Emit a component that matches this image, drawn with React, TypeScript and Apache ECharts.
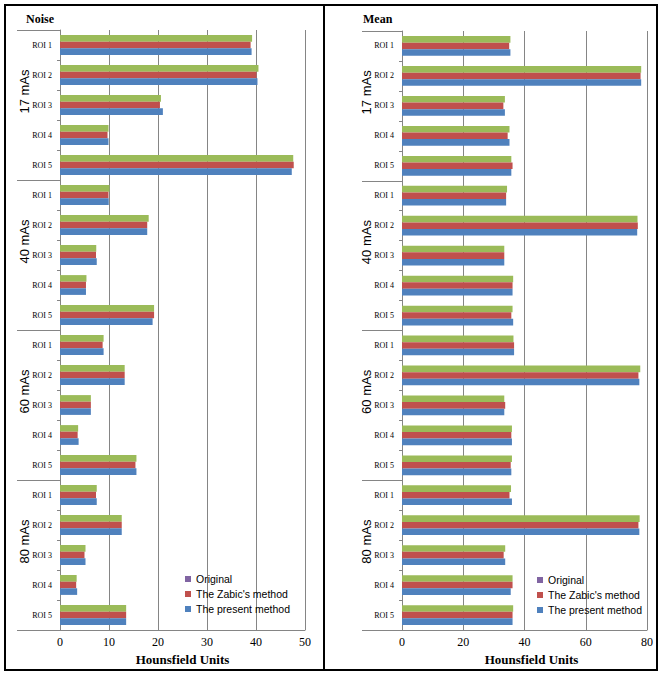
import React, { useEffect, useRef } from 'react';
import * as echarts from 'echarts';

const groups = ['17 mAs', '40 mAs', '60 mAs', '80 mAs'];
const rois = ['ROI 1', 'ROI 2', 'ROI 3', 'ROI 4', 'ROI 5'];
const seriesNames = ['Original', "The Zabic's method", 'The present method'];
const noiseTicks = { min: 0, max: 50, interval: 10 };
const meanTicks = { min: 0, max: 80, interval: 20 };

// Noise (left panel)
const noiseOriginal = [39.2, 40.5, 20.6, 9.9, 47.6, 10.1, 18.1, 7.4, 5.4, 19.2, 8.9, 13.2, 6.3, 3.7, 15.6, 7.5, 12.6, 5.2, 3.4, 13.5];
const noiseZabic = [38.9, 40.1, 20.4, 9.7, 47.7, 9.9, 17.8, 7.35, 5.3, 19.2, 8.7, 13.2, 6.3, 3.6, 15.4, 7.35, 12.6, 5.0, 3.3, 13.5];
const noisePresent = [39.1, 40.3, 21.0, 9.9, 47.3, 9.95, 17.8, 7.5, 5.3, 18.9, 8.9, 13.2, 6.3, 3.8, 15.6, 7.5, 12.6, 5.2, 3.5, 13.5];

// Mean (right panel)
const meanOriginal = [35.4, 78.1, 33.6, 35.1, 35.7, 34.3, 76.9, 33.4, 36.3, 36.1, 36.4, 77.8, 33.4, 35.9, 35.9, 35.6, 77.6, 33.7, 36.1, 36.3];
const meanZabic = [35.0, 77.9, 33.1, 34.5, 36.1, 34.0, 77.0, 33.4, 36.1, 35.7, 36.6, 77.2, 33.7, 35.7, 35.5, 35.1, 77.2, 33.2, 36.1, 36.1];
const meanPresent = [35.4, 78.1, 33.6, 35.1, 35.7, 34.0, 76.8, 33.4, 36.1, 36.3, 36.6, 77.5, 33.4, 35.9, 35.7, 35.9, 77.5, 33.7, 35.5, 36.1];

const barColors = ['#9BBB59', '#C0504D', '#4F81BD'];
const legendColors = ['#8064A2', '#C0504D', '#4F81BD'];

const SERIF = 'Liberation Serif';
const SANS = 'Liberation Sans';
const GRAY = '#858585';

export default function App() {
  const ref = useRef<HTMLDivElement>(null);
  useEffect(() => {
    if (!ref.current) return;
    const chart = echarts.init(ref.current, null, { renderer: 'svg' });
    const cats = groups.flatMap((g) => rois.map((r) => g + '|' + r));

    const makeY = (gridIndex: number, groupTickLen: number) => [
      {
        type: 'category',
        gridIndex,
        data: cats,
        inverse: true,
        position: 'left',
        axisLine: { show: true, lineStyle: { color: GRAY, width: 1 } },
        axisTick: { show: true, length: 3, lineStyle: { color: GRAY } },
        axisLabel: {
          formatter: (v: string) => v.split('|')[1],
          fontFamily: SERIF,
          fontSize: 8,
          color: '#000',
          margin: 8,
        },
        splitLine: { show: false },
      },
      {
        type: 'category',
        gridIndex,
        data: groups,
        inverse: true,
        position: 'left',
        axisLine: { show: false },
        axisTick: { show: true, length: groupTickLen, lineStyle: { color: GRAY } },
        axisLabel: {
          rotate: 90,
          fontFamily: SANS,
          fontSize: 13,
          color: '#000',
          margin: 29,
          padding: [0, 0, 0, 27],
        },
        splitLine: { show: false },
      },
    ];

    const makeX = (gridIndex: number, ticks: any, namePad: number) => ({
      type: 'value',
      gridIndex,
      min: ticks.min,
      max: ticks.max,
      interval: ticks.interval,
      axisLine: { show: true, lineStyle: { color: GRAY } },
      axisTick: { show: false },
      splitLine: { show: true, lineStyle: { color: GRAY, width: 1 } },
      axisLabel: { fontFamily: SERIF, fontSize: 12, color: '#000', margin: 6 },
      name: 'Hounsfield Units',
      nameLocation: 'middle',
      nameGap: 20,
      nameTextStyle: {
        fontFamily: SERIF,
        fontWeight: 'bold',
        fontSize: 13,
        color: '#000',
        padding: [0, 0, 0, namePad],
      },
    });

    const legendData = seriesNames.map((n, i) => ({ name: n, itemStyle: { color: legendColors[i] } }));
    const makeLegend = (left: number, top: number) => ({
      left,
      top,
      orient: 'vertical',
      icon: 'rect',
      itemWidth: 6,
      itemHeight: 6,
      itemGap: 3,
      padding: 0,
      selectedMode: false,
      textStyle: { fontFamily: SANS, fontSize: 10.5, color: '#000', lineHeight: 12 },
      data: legendData,
    });

    const noiseData = [noiseOriginal, noiseZabic, noisePresent];
    const meanData = [meanOriginal, meanZabic, meanPresent];
    const series: any[] = [];
    seriesNames.forEach((n, i) => {
      series.push({
        type: 'bar',
        name: n,
        xAxisIndex: 0,
        yAxisIndex: 0,
        data: noiseData[i],
        barGap: '0%',
        barCategoryGap: '34%',
        itemStyle: { color: barColors[i] },
      });
    });
    seriesNames.forEach((n, i) => {
      series.push({
        type: 'bar',
        name: n,
        xAxisIndex: 1,
        yAxisIndex: 2,
        data: meanData[i],
        barGap: '0%',
        barCategoryGap: '34%',
        itemStyle: { color: barColors[i] },
      });
    });

    chart.setOption({
      animation: false,
      backgroundColor: '#fff',
      title: [
        { text: 'Noise', left: 26, top: 13, padding: 0, textStyle: { fontFamily: SERIF, fontWeight: 'bold', fontSize: 12, color: '#000' } },
        { text: 'Mean', left: 363, top: 13, padding: 0, textStyle: { fontFamily: SERIF, fontWeight: 'bold', fontSize: 12, color: '#000' } },
      ],
      grid: [
        { left: 60, top: 30, width: 245, height: 600, containLabel: false },
        { left: 402, top: 31, width: 245, height: 599, containLabel: false },
      ],
      xAxis: [makeX(0, noiseTicks, 0), makeX(1, meanTicks, 14)],
      yAxis: [...makeY(0, 43), ...makeY(1, 40)],
      legend: [makeLegend(185, 573), makeLegend(537, 574)],
      series,
      graphic: [
        { type: 'rect', shape: { x: 5, y: 5, width: 652, height: 665 }, style: { fill: 'none', stroke: '#000', lineWidth: 2 }, silent: true },
        { type: 'line', shape: { x1: 324, y1: 5, x2: 324, y2: 670 }, style: { stroke: '#000', lineWidth: 2 }, silent: true },
      ],
    });
    return () => chart.dispose();
  }, []);
  return <div ref={ref} style={{ position: 'absolute', left: 0, top: 0, width: 665, height: 675 }} />;
}
